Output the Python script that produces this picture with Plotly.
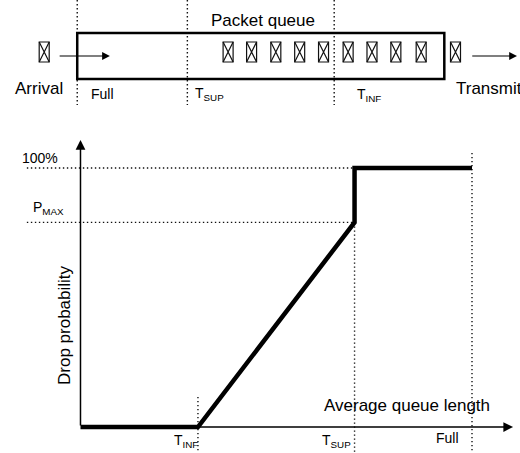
import plotly.graph_objects as go

W, H = 520, 453

# Queue length (percent of buffer) shared by the queue sketch and the plot
FULL = 100
T_SUP = 70
T_INF = 30

# Drop probability levels (percent)
P_MAX = 79
P_FULL = 100

# Packets in the buffer, measured from the head of the queue
queued_packets = [6.3, 13.2, 19.7, 26.2, 32.9, 39.4, 45.9, 52.5, 58.9]
arriving_packet = 109.0
leaving_packet = -3.05

# RED drop probability as a function of average queue length
curve_x = [0, T_INF, T_SUP, T_SUP, FULL]
curve_y = [0, 0, P_MAX, P_FULL, P_FULL]

FONT = "Liberation Sans, Arial, sans-serif"
DOT = dict(color="#111", width=1.4, dash="1.4px,2.6px")

fig = go.Figure()
fig.add_trace(go.Scatter(
    x=curve_x, y=curve_y, xaxis="x2", yaxis="y2", mode="lines",
    line=dict(color="black", width=4.5), hoverinfo="skip", showlegend=False,
))

hidden = dict(visible=False, fixedrange=True)
split = 1 - 110 / H
fig.update_layout(
    width=W, height=H, margin=dict(l=0, r=0, t=0, b=0),
    paper_bgcolor="white", plot_bgcolor="white", showlegend=False,
    font=dict(family=FONT, color="black"),
    # queue sketch: head of the queue on the right
    xaxis=dict(domain=[0, 1], range=[121.04, -20.62], anchor="y", **hidden),
    yaxis=dict(domain=[split, 1], range=[110, 0], anchor="x", **hidden),
    # drop probability plot
    xaxis2=dict(domain=[0, 1], range=[-20.56, 112.26], anchor="y2", **hidden),
    yaxis2=dict(domain=[0, split], range=[-10.04, 122.39], anchor="x2", **hidden),
)

shapes = []

def dotted(x0, y0, x1, y1, ref):
    shapes.append(dict(type="line", xref="x" + ref, yref="y" + ref,
                       x0=x0, y0=y0, x1=x1, y1=y1, line=DOT, layer="below"))

# guides in the plot
for level in (P_FULL, P_MAX):
    dotted(-13.7, level, T_SUP, level, "2")
dotted(T_INF, 11.6, T_INF, -12, "2")
dotted(T_SUP, P_MAX, T_SUP, -12, "2")
dotted(FULL, 105.8, FULL, -12, "2")

# guides in the queue sketch
for mark in (FULL, T_SUP, T_INF):
    dotted(mark, 0, mark, 105, "")

# buffer outline
shapes.append(dict(type="rect", xref="x", yref="y", x0=0, x1=FULL, y0=33, y1=79,
                   line=dict(color="black", width=2.5)))

# packets: small crossed boxes
for u in queued_packets + [arriving_packet, leaving_packet]:
    common = dict(xref="x", yref="y", xsizemode="pixel", ysizemode="pixel",
                  xanchor=u, yanchor=52, line=dict(color="#111", width=1.2))
    shapes.append(dict(type="rect", x0=-5, x1=5, y0=-10, y1=10, **common))
    shapes.append(dict(type="path", path="M-5,-10 L5,10 M-5,10 L5,-10", **common))

fig.update_layout(shapes=shapes)

annotations = []

def arrow(x, y, ax, ay, ref, width, size):
    annotations.append(dict(
        text="", showarrow=True, x=x, y=y, ax=ax, ay=ay,
        xref="x" + ref, yref="y" + ref, axref="x" + ref, ayref="y" + ref,
        arrowhead=2, arrowsize=size, arrowwidth=width, arrowcolor="black",
        standoff=0, startstandoff=0,
    ))

arrow(0, 110.8, 0, 0, "2", 1.5, 1.3)      # probability axis
arrow(110.5, 0, 0, 0, "2", 1.5, 1.3)      # queue length axis
arrow(91.1, 56, 105.2, 56, "", 1.2, 1.3)  # incoming packet
arrow(-19.8, 56, -7.2, 56, "", 1.2, 1.3)  # outgoing packet

def label(text, px, py, size, xanchor="left", angle=0):
    annotations.append(dict(
        text=text, x=px / W, y=1 - py / H, xref="paper", yref="paper",
        xanchor=xanchor, yanchor="middle", showarrow=False, textangle=angle,
        font=dict(family=FONT, size=size, color="black"), borderpad=0,
    ))

label("Packet queue", 263, 20, 17, "center")
label("Arrival", 38.5, 88, 17, "center")
label("Transmit", 455, 88, 17)
label("Full", 90, 94, 14)
label("T<sub>SUP</sub>", 194, 94, 14)
label("T<sub>INF</sub>", 356, 95, 14)

label("100%", 21, 158, 14)
label("P<sub>MAX</sub>", 32, 208, 14)
label("Drop probability", 64, 325, 17, "center", -90)
label("Average queue length", 406.5, 405, 17, "center")
label("T<sub>INF</sub>", 173, 441, 14)
label("T<sub>SUP</sub>", 321, 441, 14)
label("Full", 435, 438, 14)

fig.update_layout(annotations=annotations)

fig.write_html("out.html", config=dict(displayModeBar=False))
